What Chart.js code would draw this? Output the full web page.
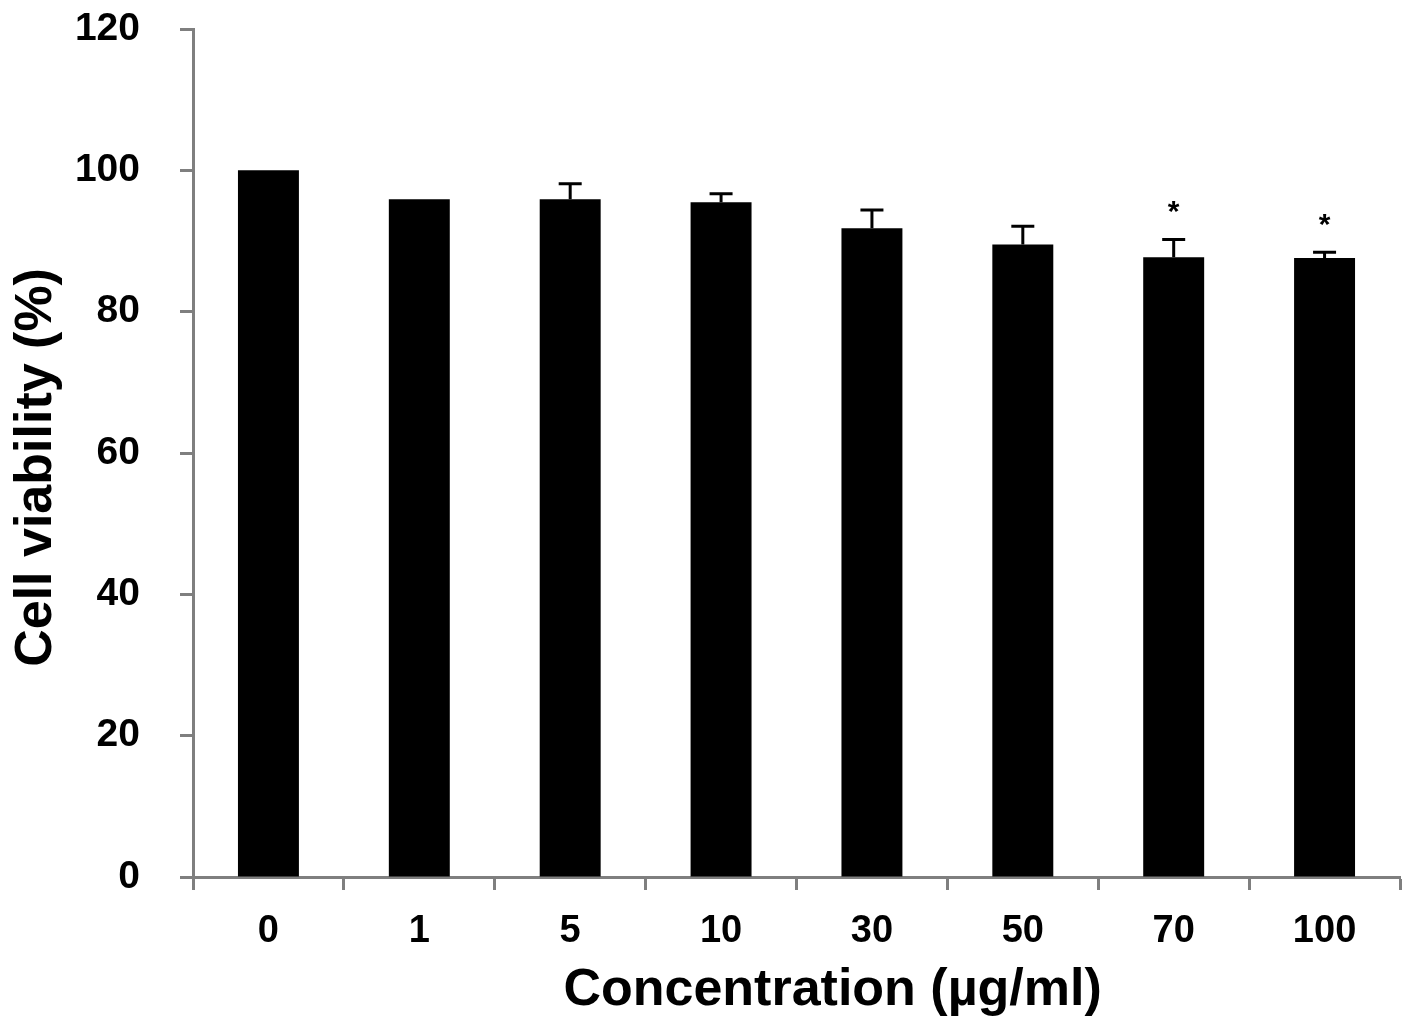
<!DOCTYPE html>
<html>
<head>
<meta charset="utf-8">
<script src="https://cdn.jsdelivr.net/npm/chart.js@4"></script>
<style>
  html, body { margin: 0; padding: 0; background: #ffffff; }
  #wrap { width: 1417px; height: 1032px; }
</style>
</head>
<body>
<div id="wrap"><canvas id="c" width="1417" height="1032"></canvas></div>
<script>
const categories = ['0', '1', '5', '10', '30', '50', '70', '100'];
const viability = [100, 95.9, 95.9, 95.5, 91.8, 89.5, 87.7, 87.6];
const errorsUp = [0, 0, 2.2, 1.2, 2.6, 2.6, 2.5, 0.8];
const significance = ['', '', '', '', '', '', '*', '*'];
const yTicks = [0, 20, 40, 60, 80, 100, 120];

const FONT = '"Liberation Sans", Arial, sans-serif';
const AXIS_GRAY = '#7f7f7f';

const errorBarPlugin = {
  id: 'errorBars',
  afterDatasetsDraw(chart) {
    const ctx = chart.ctx;
    const meta = chart.getDatasetMeta(0);
    const yScale = chart.scales.y;
    ctx.save();
    meta.data.forEach((bar, i) => {
      const x = bar.x;
      const top = yScale.getPixelForValue(viability[i]);
      const errTop = yScale.getPixelForValue(viability[i] + errorsUp[i]);
      if (errorsUp[i] > 0) {
        ctx.strokeStyle = '#000000';
        ctx.lineWidth = 3;
        ctx.beginPath();
        ctx.moveTo(x, top);
        ctx.lineTo(x, errTop);
        ctx.moveTo(x - 11.5, errTop);
        ctx.lineTo(x + 11.5, errTop);
        ctx.stroke();
      }
      if (significance[i]) {
        ctx.fillStyle = '#000000';
        ctx.font = 'bold 30px ' + FONT;
        ctx.textAlign = 'center';
        ctx.textBaseline = 'middle';
        ctx.fillText(significance[i], x, errTop - 27);
      }
    });
    ctx.restore();
  }
};

new Chart(document.getElementById('c'), {
  type: 'bar',
  data: {
    labels: categories,
    datasets: [{
      data: viability,
      backgroundColor: '#000000',
      borderWidth: 0,
      barPercentage: 0.404,
      categoryPercentage: 1.0
    }]
  },
  options: {
    responsive: false,
    animation: false,
    devicePixelRatio: 1,
    layout: { padding: { top: 29, right: 17, left: 0, bottom: 0 } },
    plugins: { legend: { display: false }, tooltip: { enabled: false } },
    scales: {
      x: {
        afterFit(scale) { scale.height = 155; scale.paddingLeft = 0; scale.paddingRight = 0; },
        grid: {
          display: true,
          drawOnChartArea: false,
          drawTicks: true,
          tickLength: 13,
          tickWidth: 3,
          tickColor: AXIS_GRAY,
          offset: true
        },
        border: { display: true, color: AXIS_GRAY, width: 3 },
        ticks: {
          color: '#000000',
          font: { family: FONT, size: 38, weight: 'bold' },
          padding: 19,
          maxRotation: 0
        },
        title: {
          display: true,
          text: '     Concentration (µg/ml)',
          color: '#000000',
          font: { family: FONT, size: 52, weight: 'bold' },
          padding: { top: 0, bottom: 10 }
        }
      },
      y: {
        min: 0,
        max: 120,
        afterFit(scale) { scale.width = 193; scale.paddingTop = 0; scale.paddingBottom = 0; },
        afterBuildTicks(scale) { scale.ticks = yTicks.map(v => ({ value: v })); },
        grid: {
          display: true,
          drawOnChartArea: false,
          drawTicks: true,
          tickLength: 13,
          tickWidth: 3,
          tickColor: AXIS_GRAY
        },
        border: { display: true, color: AXIS_GRAY, width: 3 },
        ticks: {
          color: '#000000',
          font: { family: FONT, size: 39, weight: 'bold' },
          padding: 40
        },
        title: {
          display: true,
          text: 'Cell viability (%)  ',
          color: '#000000',
          font: { family: FONT, size: 52, weight: 'bold' },
          padding: { top: 5, bottom: 0 }
        }
      }
    }
  },
  plugins: [errorBarPlugin]
});
</script>
</body>
</html>
